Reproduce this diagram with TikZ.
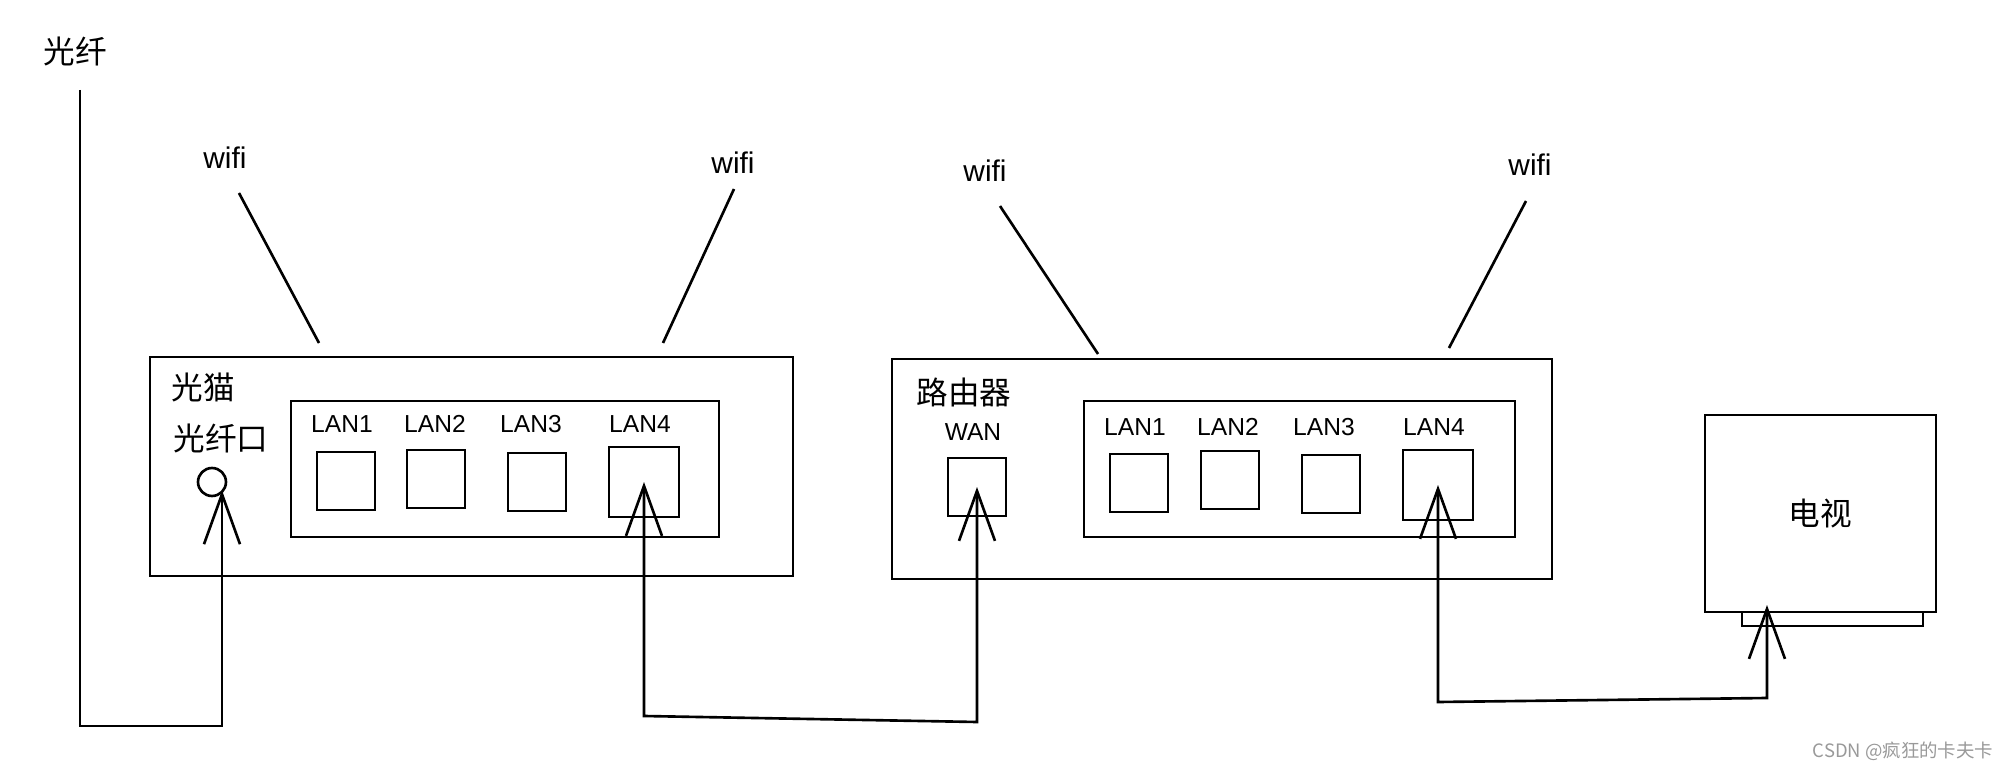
\documentclass[tikz,border=0pt]{standalone}
\usepackage{fontspec}
\setmainfont{Liberation Sans}
\newfontfamily\cjk{Noto Sans CJK SC}
\usetikzlibrary{positioning,arrows.meta}
\tikzset{
  box/.style = {draw, line width=1.5pt, inner sep=0pt},
  port/.style = {box, minimum width=1.16cm, minimum height=1.16cm},
  bigport/.style = {box, minimum width=1.4cm, minimum height=1.4cm},
  cable/.style = {line width=1.5pt},
  plug/.style = {cable, -{Straight Barb[length=1cm,width=0.72cm]}},
  twoplug/.style = {cable, {Straight Barb[length=1cm,width=0.72cm]}-{Straight Barb[length=1cm,width=0.72cm]}},
  antenna/.style = {line width=1.5pt},
  hand/.style = {font=\fontsize{14}{16}\selectfont},
  wifitext/.style = {font=\fontsize{17}{19}\selectfont},
  cn/.style = {font=\cjk\fontsize{18}{20}\selectfont},
}

\begin{document}
\begin{tikzpicture}[x=0.02cm, y=-0.02cm]
  \useasboundingbox (0,0) rectangle (2016,770);

  % fiber coming in
  \node[cn] (fiberlabel) at (75,51) {光纤};
  \coordinate (fibertop) at (80,90);

  % modem
  \node[box, minimum width=12.86cm, minimum height=4.38cm] (modem) at (471.5,466.5) {};
  \node[box, minimum width=8.56cm, minimum height=2.72cm] (modemlan) at (505,469) {};
  \node[cn] (modemname) at (203,387) {光猫};
  \node[cn] (fibername) at (221,438) {光纤口};
  \node[draw, circle, line width=1.5pt, minimum size=0.56cm, inner sep=0pt] (fiberport) at (212,482) {};

  \node[port] (m1) at (346,481) {};
  \node[port] (m2) at (436,479) {};
  \node[port] (m3) at (537,482) {};
  \node[bigport] (m4) at (644,482) {};
  \node[hand] (m1label) at (342,424) {LAN1};
  \node[hand] (m2label) at (435,424) {LAN2};
  \node[hand] (m3label) at (531,424) {LAN3};
  \node[hand] (m4label) at (640,424) {LAN4};

  % modem antennas
  \node[wifitext] (mwifiA) at (225,158) {wifi};
  \node[wifitext] (mwifiB) at (733,163) {wifi};
  \coordinate (mantA) at (239,193);
  \coordinate (mbaseA) at (319,343);
  \coordinate (mantB) at (734,189);
  \coordinate (mbaseB) at (663,343);
  \draw[antenna] (mantA) -- (mbaseA);
  \draw[antenna] (mantB) -- (mbaseB);

  % router
  \node[box, minimum width=13.2cm, minimum height=4.4cm] (router) at (1222,469) {};
  \node[box, minimum width=8.62cm, minimum height=2.72cm] (routerlan) at (1299.5,469) {};
  \node[cn] (routername) at (964,392) {路由器};
  \node[hand] (wanlabel) at (973,432) {WAN};
  \node[port] (rwan) at (977,487) {};

  \node[port] (r1) at (1139,483) {};
  \node[port] (r2) at (1230,480) {};
  \node[port] (r3) at (1331,484) {};
  \node[bigport] (r4) at (1438,485) {};
  \node[hand] (r1label) at (1135,427) {LAN1};
  \node[hand] (r2label) at (1228,427) {LAN2};
  \node[hand] (r3label) at (1324,427) {LAN3};
  \node[hand] (r4label) at (1434,427) {LAN4};

  % router antennas
  \node[wifitext] (rwifiA) at (985,171) {wifi};
  \node[wifitext] (rwifiB) at (1530,165) {wifi};
  \coordinate (rantA) at (1000,206);
  \coordinate (rbaseA) at (1098,354);
  \coordinate (rantB) at (1526,201);
  \coordinate (rbaseB) at (1449,348);
  \draw[antenna] (rantA) -- (rbaseA);
  \draw[antenna] (rantB) -- (rbaseB);

  % tv
  \node[box, minimum width=3.62cm, minimum height=0.28cm] (tvstand) at (1832.5,619) {};
  \node[box, fill=white, minimum width=4.62cm, minimum height=3.94cm, cn] (tv) at (1820.5,513.5) {电视};

  % cables
  \coordinate (b1) at (222,726);
  \draw[plug, shorten >=-0.14cm] (fibertop) |- (b1) -- (b1 |- fiberport.south);

  \coordinate (b2) at (644,716);
  \coordinate (b3) at (977,722);
  \draw[twoplug] (m4.center) -- (b2) -- (b3) -- (rwan.center);

  \coordinate (b4) at (1438,702);
  \coordinate (b5) at (1767,698);
  \coordinate (tvin) at (1767,605);
  \draw[twoplug] (r4.center) -- (b4) -- (b5) -- (tvin);

  \node[font=\cjk\fontsize{10.5}{12}\selectfont, text=black!40] (mark) at (1903,751) {CSDN @疯狂的卡夫卡};
\end{tikzpicture}
\end{document}
